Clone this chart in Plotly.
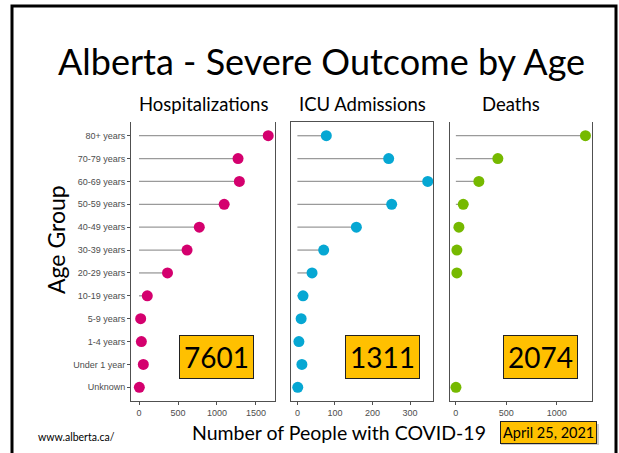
import plotly.graph_objects as go

# Age groups, bottom to top
age_groups = ["Unknown", "Under 1 year", "1-4 years", "5-9 years", "10-19 years",
              "20-29 years", "30-39 years", "40-49 years", "50-59 years",
              "60-69 years", "70-79 years", "80+ years"]

hospitalizations = [4, 55, 30, 21, 106, 365, 616, 773, 1092, 1287, 1270, 1657]
icu_admissions = [1, 12, 4, 10, 15, 39, 70, 157, 251, 347, 243, 77]
deaths = [1, None, None, None, None, 10, 10, 30, 73, 228, 416, 1284]

panel_titles = ["Hospitalizations", "ICU Admissions", "Deaths"]
panel_totals = ["7601", "1311", "2074"]
panel_colors = ["#d4006e", "#06a7d3", "#76b900"]
panel_ticks = [[0, 500, 1000, 1500], [0, 100, 200, 300], [0, 500, 1000]]
panel_ranges = [[-103, 1744], [-17, 361], [-63, 1349]]

W, H = 619, 453


def px(x):
    return x / W


def py(y):
    return 1 - y / H


# panel pixel extents (left, right)
panel_x = [(131, 275), (291, 433), (449.5, 592)]
panel_top, panel_bottom = 122, 401

fig = go.Figure()
series = [hospitalizations, icu_admissions, deaths]

for i, (vals, color) in enumerate(zip(series, panel_colors)):
    xa = "x" if i == 0 else f"x{i + 1}"
    ya = "y" if i == 0 else f"y{i + 1}"
    lx, ly = [], []
    for cat, v in zip(age_groups, vals):
        if v is None:
            continue
        lx += [0, v, None]
        ly += [cat, cat, None]
    fig.add_trace(go.Scatter(x=lx, y=ly, mode="lines", xaxis=xa, yaxis=ya,
                             line=dict(color="#9a9a9a", width=1.3),
                             hoverinfo="skip", showlegend=False))
    mx = [v for v in vals if v is not None]
    my = [c for c, v in zip(age_groups, vals) if v is not None]
    fig.add_trace(go.Scatter(x=mx, y=my, mode="markers", xaxis=xa, yaxis=ya,
                             marker=dict(color=color, size=11, line=dict(width=0)),
                             showlegend=False))

tick_font = dict(family="Liberation Sans, Arial", size=9, color="#4d4d4d")
axis_line = "#505050"

for i in range(3):
    sx = "" if i == 0 else str(i + 1)
    l, r = panel_x[i]
    fig.layout[f"xaxis{sx}"] = dict(
        domain=[px(l), px(r)], range=panel_ranges[i], anchor=f"y{sx}",
        tickvals=panel_ticks[i], ticks="outside", ticklen=3, tickcolor=axis_line,
        tickfont=tick_font, showgrid=False, zeroline=False,
        showline=True, linecolor=axis_line, linewidth=1,
        mirror=(i == 1), fixedrange=True)
    fig.layout[f"yaxis{sx}"] = dict(
        domain=[py(panel_bottom), py(panel_top)], anchor=f"x{sx}",
        type="category", categoryorder="array", categoryarray=age_groups,
        range=[-0.6, 11.6], showticklabels=(i == 0),
        ticks="outside" if i == 0 else "", ticklen=3, tickcolor=axis_line,
        tickfont=tick_font, showgrid=False, zeroline=False,
        showline=True, linecolor=axis_line, linewidth=1, mirror=True,
        fixedrange=True)

title_font = "Lato, Open Sans, sans-serif"


def tf(size):
    return dict(family=title_font, size=size, color="#000", weight=400)


annotations = [
    dict(text="Alberta - Severe Outcome by Age", x=px(321), y=py(61), font=tf(36)),
    dict(text="Age Group", x=px(56), y=py(240), textangle=-90, font=tf(23)),
    dict(text="Number of People with COVID-19", x=px(339), y=py(432), font=tf(19.5)),
    dict(text="www.alberta.ca/", x=px(76), y=py(437), font=tf(10.5)),
    dict(text="April 25, 2021", x=px(548), y=py(432), font=tf(14.5),
         bgcolor="#ffc000", bordercolor="#222", borderwidth=1, borderpad=2),
]
sub_x = [203, 362, 511]
for t, cx in zip(panel_titles, sub_x):
    annotations.append(dict(text=t, x=px(cx), y=py(104), font=tf(18.5)))
box_x = [216.5, 382, 540.5]
for t, cx in zip(panel_totals, box_x):
    annotations.append(dict(text=t, x=px(cx), y=py(357), font=tf(28),
                            bgcolor="#ffc000", bordercolor="#222", borderwidth=1,
                            borderpad=4))
for a in annotations:
    a.update(xref="paper", yref="paper", showarrow=False,
             xanchor="center", yanchor="middle")

shapes = [
    # slide frame
    dict(type="rect", xref="paper", yref="paper",
         x0=px(12), x1=px(616), y0=py(470), y1=py(6),
         line=dict(color="#000", width=3)),
    # soft drop shadow behind the date label
    dict(type="rect", xref="paper", yref="paper", layer="above",
         x0=px(501), x1=px(599), y0=py(445), y1=py(424),
         fillcolor="rgba(0,0,0,0.2)", line=dict(width=0)),
]

fig.update_layout(width=W, height=H, margin=dict(l=0, r=0, t=0, b=0),
                  paper_bgcolor="#fff", plot_bgcolor="#fff",
                  annotations=annotations, shapes=shapes)

fig.write_html("out.html")
